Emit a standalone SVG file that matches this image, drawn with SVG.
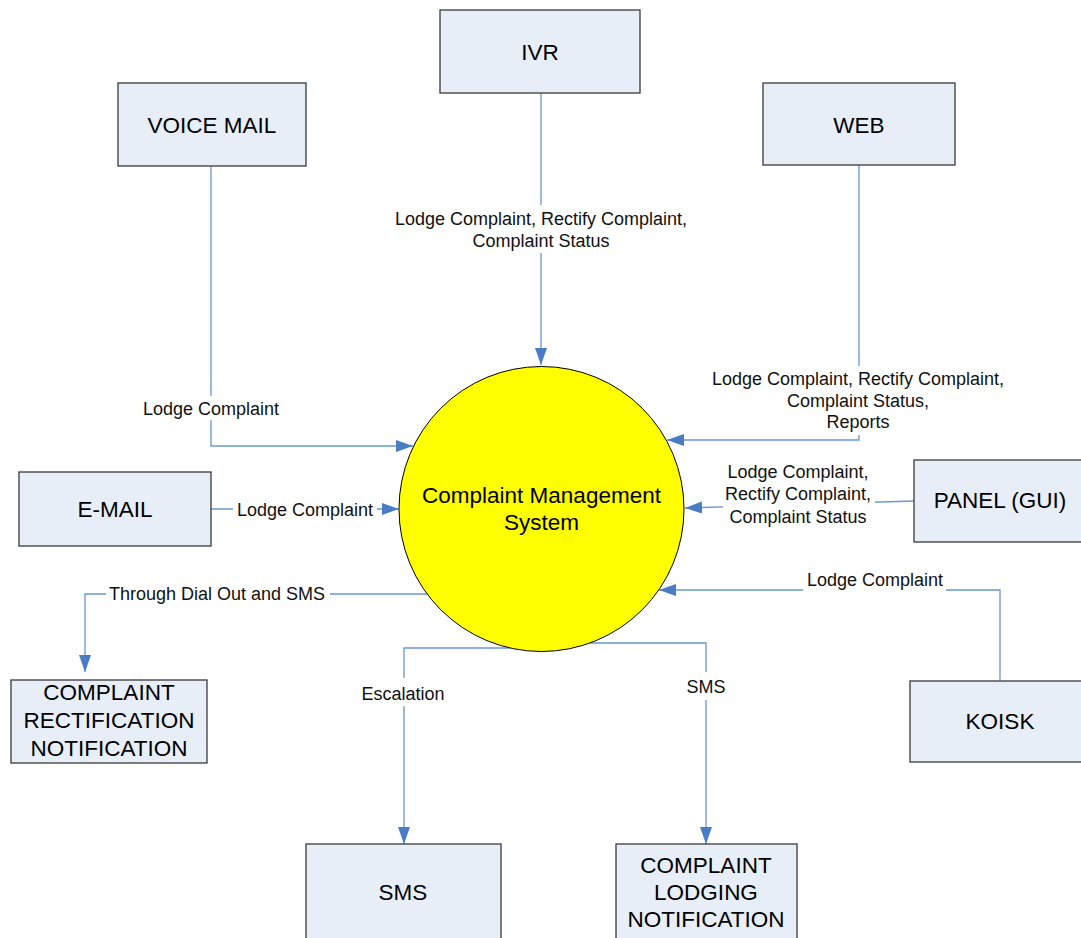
<svg xmlns="http://www.w3.org/2000/svg" width="1081" height="938" viewBox="0 0 1081 938">
<style>
.box{fill:#e8eef8;stroke:#3a3a3a;stroke-width:1.3}
.bt{font-family:"Liberation Sans",Arial,sans-serif;font-size:22.5px;fill:#000;text-anchor:middle}
.lt{font-family:"Liberation Sans",Arial,sans-serif;font-size:18px;fill:#111;text-anchor:middle}
.c{fill:none;stroke:#6a96d4;stroke-width:1.3}
.bg{fill:#fff}
</style>
<defs>
<marker id="arr" markerUnits="userSpaceOnUse" markerWidth="17" markerHeight="12" refX="17" refY="6" orient="auto">
<path d="M0,0 L17,6 L0,12 z" fill="#4a7bc5"/>
</marker>
</defs>
<rect width="1081" height="938" fill="#fff"/>
<g id="connectors">
<path class="c" d="M541,93 V365" marker-end="url(#arr)"/>
<path class="c" d="M211,166 V446 H413" marker-end="url(#arr)"/>
<path class="c" d="M859,165 V440 H667" marker-end="url(#arr)"/>
<path class="c" d="M211,509 H399" marker-end="url(#arr)"/>
<path class="c" d="M914,501 L685,508" marker-end="url(#arr)"/>
<path class="c" d="M1000,681 V590 H659" marker-end="url(#arr)"/>
<path class="c" d="M427,594 H85 V672" marker-end="url(#arr)"/>
<path class="c" d="M510,648 H404 V844" marker-end="url(#arr)"/>
<path class="c" d="M590,643 H706 V844" marker-end="url(#arr)"/>
<g id="labels">
<rect class="bg" x="391" y="205" width="300" height="48"/>
<text class="lt" x="541" y="224.5">Lodge Complaint, Rectify Complaint,</text>
<text class="lt" x="541" y="246.5">Complaint Status</text>
<rect class="bg" x="140" y="396" width="142" height="24"/>
<text class="lt" x="211" y="414.5">Lodge Complaint</text>
<rect class="bg" x="708" y="366" width="300" height="69"/>
<text class="lt" x="858" y="384.5">Lodge Complaint, Rectify Complaint,</text>
<text class="lt" x="858" y="406.5">Complaint Status,</text>
<text class="lt" x="858" y="428">Reports</text>
<rect class="bg" x="233" y="497" width="144" height="24"/>
<text class="lt" x="305" y="515.5">Lodge Complaint</text>
<rect class="bg" x="723" y="459" width="152" height="70"/>
<text class="lt" x="798" y="477.5">Lodge Complaint,</text>
<text class="lt" x="798" y="500">Rectify Complaint,</text>
<text class="lt" x="798" y="522.5">Complaint Status</text>
<rect class="bg" x="803" y="567" width="143" height="26"/>
<text class="lt" x="875" y="585.5">Lodge Complaint</text>
<rect class="bg" x="106" y="582" width="224" height="24"/>
<text class="lt" x="217" y="600">Through Dial Out and SMS</text>
<rect class="bg" x="358" y="678" width="90" height="28"/>
<text class="lt" x="403" y="699.5">Escalation</text>
<rect class="bg" x="684" y="672" width="44" height="28"/>
<text class="lt" x="706" y="692.5">SMS</text>
</g>
</g>
<g id="cms">
<circle cx="541.5" cy="509" r="142.5" fill="#ffff00" stroke="#000" stroke-width="1"/>
<text class="bt" x="541.5" y="503">Complaint Management</text>
<text class="bt" x="541.5" y="530">System</text>
</g>
<g id="ivr"><rect class="box" x="440" y="10" width="200" height="83"/><text class="bt" x="540" y="60">IVR</text></g>
<g id="voicemail"><rect class="box" x="118" y="83" width="188" height="83"/><text class="bt" x="212" y="133">VOICE MAIL</text></g>
<g id="web"><rect class="box" x="763" y="83" width="192" height="82"/><text class="bt" x="859" y="133">WEB</text></g>
<g id="email"><rect class="box" x="19" y="472" width="192" height="74"/><text class="bt" x="115" y="517">E-MAIL</text></g>
<g id="panel"><rect class="box" x="914" y="460" width="180" height="82"/><text class="bt" x="1000" y="508">PANEL (GUI)</text></g>
<g id="koisk"><rect class="box" x="910" y="681" width="180" height="81"/><text class="bt" x="1000" y="729">KOISK</text></g>
<g id="rectification"><rect class="box" x="11" y="680" width="196" height="83"/>
<text class="bt" x="109" y="700">COMPLAINT</text><text class="bt" x="109" y="728">RECTIFICATION</text><text class="bt" x="109" y="756">NOTIFICATION</text></g>
<g id="sms"><rect class="box" x="306" y="844" width="195" height="100"/><text class="bt" x="403" y="900">SMS</text></g>
<g id="lodging"><rect class="box" x="616" y="844" width="181" height="100"/>
<text class="bt" x="706" y="873">COMPLAINT</text><text class="bt" x="706" y="900">LODGING</text><text class="bt" x="706" y="927">NOTIFICATION</text></g>
</svg>
